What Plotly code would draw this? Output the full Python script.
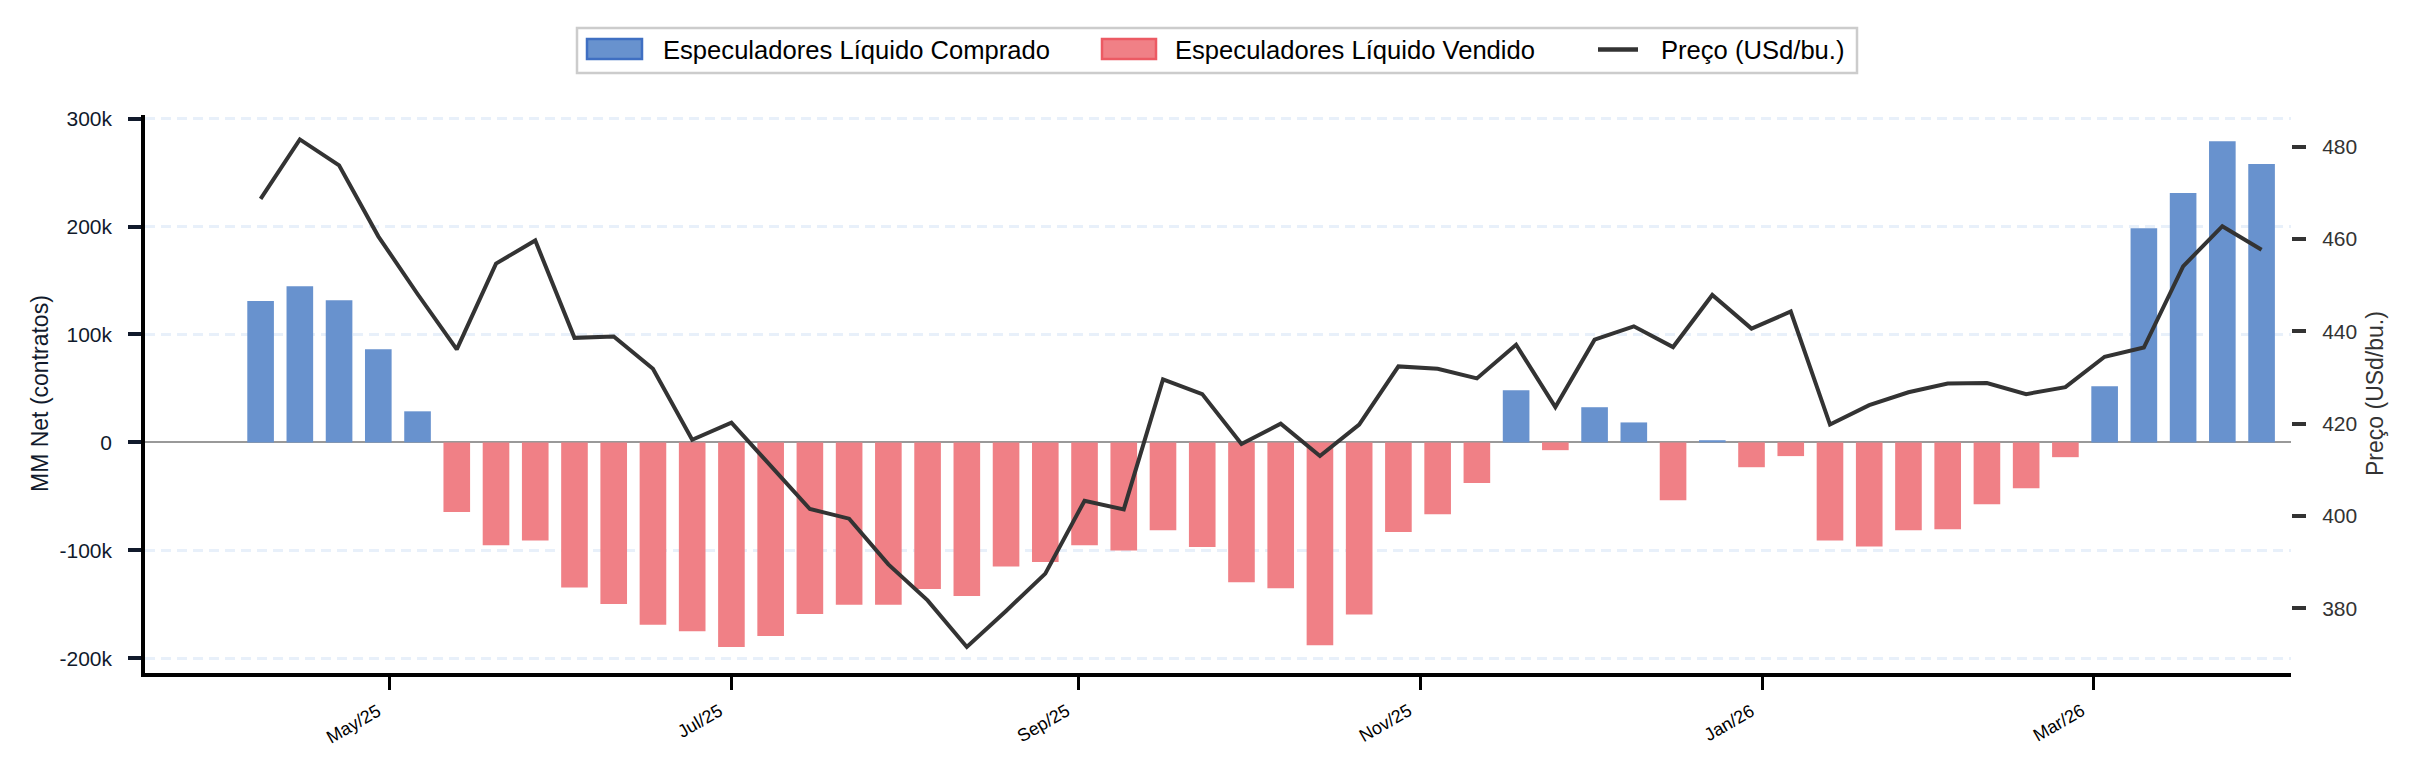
import pandas as pd
import plotly.graph_objects as go

# ---------------- data ----------------
dates = pd.date_range("2025-04-08", periods=52, freq="7D")
net_k = [131.0, 144.7, 131.7, 86.4, 28.8,
         -64.5, -95.3, -90.9, -134.4, -149.8, -169.0, -174.9, -189.6, -179.3, -159.1, -150.5, -150.5, -135.8,
         -142.3, -114.9, -110.8, -95.3, -100.1, -81.3, -97.0, -129.6, -135.1, -187.9, -159.4, -83.0, -66.5, -37.7,
         48.3, -7.2, 32.6, 18.5, -53.5, 2.0,
         -23.0, -12.7, -90.9, -96.4, -81.3, -80.6, -57.3, -42.5, -13.7,
         52.1, 198.5, 231.1, 279.1, 257.9]
price = [468.7, 481.6, 476.0, 460.6, 448.1, 436.1, 454.7, 459.7, 438.6, 438.9, 431.9, 416.5, 420.2, 410.8,
         401.5, 399.4, 389.5, 381.7,
         371.6, 379.4, 387.5, 403.3, 401.4, 429.6, 426.4, 415.6, 420.0, 413.0, 419.8, 432.4, 431.9, 429.8,
         437.1, 423.6, 438.2, 441.1, 436.6,
         447.9, 440.6, 444.3, 419.8, 424.0, 426.8, 428.7, 428.8, 426.4, 427.9, 434.5, 436.5, 454.1, 462.8, 457.7]

net = [v * 1000 for v in net_k]
long_vals = [v if v > 0 else None for v in net]
short_vals = [v if v < 0 else None for v in net]

y_ticks = [-200000, -100000, 0, 100000, 200000, 300000]
y_ticktext = ["-200k", "-100k", "0", "100k", "200k", "300k"]
p_ticks = [380, 400, 420, 440, 460, 480]
x_ticks = ["2025-05-01", "2025-07-01", "2025-09-01", "2025-11-01", "2026-01-01", "2026-03-01"]
x_ticktext = ["May/25", "Jul/25", "Sep/25", "Nov/25", "Jan/26", "Mar/26"]

legend_labels = ["Especuladores Líquido Comprado", "Especuladores Líquido Vendido", "Preço (USd/bu.)"]

# ---------------- style ----------------
W, H = 2416, 781
ML, MR, MT, MB = 145, 125, 115, 108
PW, PH = W - ML - MR, H - MT - MB
FONT = "Liberation Sans, Arial, sans-serif"
BLUE = "#6892CE"
BLUE_EDGE = "#3F6FC2"
RED = "#F08086"
RED_EDGE = "#EC5A63"
LINE = "#333333"
NAVY = "#111a2c"

def px_x(px):
    return (px - ML) / PW

def px_y(py):
    return 1 - (py - MT) / PH

bar_w = 4.75 * 86400000

fig = go.Figure()
fig.add_trace(go.Bar(x=dates, y=long_vals, width=bar_w, marker=dict(color=BLUE, line=dict(width=0)),
                     name=legend_labels[0], showlegend=False))
fig.add_trace(go.Bar(x=dates, y=short_vals, width=bar_w, marker=dict(color=RED, line=dict(width=0)),
                     name=legend_labels[1], showlegend=False))
fig.add_trace(go.Scatter(x=dates, y=price, mode="lines", line=dict(color=LINE, width=4),
                         name=legend_labels[2], yaxis="y2", showlegend=False))

fig.update_layout(
    width=W, height=H,
    margin=dict(l=ML, r=MR, t=MT, b=MB, autoexpand=False),
    paper_bgcolor="white", plot_bgcolor="white",
    barmode="overlay",
    font=dict(family=FONT, color=NAVY),
    xaxis=dict(
        type="date",
        range=["2025-03-18 09:00", "2026-04-05 06:00"],
        tickvals=x_ticks, ticktext=x_ticktext, showticklabels=False,
        ticks="outside", ticklen=13, tickwidth=3, tickcolor="#000000",
        showline=True, linecolor="#000000", linewidth=3.5,
        showgrid=False, zeroline=False,
    ),
    yaxis=dict(
        range=[-213700, 303400],
        tickvals=y_ticks, ticktext=y_ticktext,
        ticks="outside", ticklen=13, tickwidth=3.5, tickcolor=NAVY,
        showline=True, linecolor="#000000", linewidth=3.5,
        showgrid=True, gridcolor="#E8F0FA", gridwidth=2.5, griddash="10px,6px",
        zeroline=True, zerolinecolor="#999999", zerolinewidth=2,
        tickfont=dict(size=21, color=NAVY, family=FONT),
        ticklabelstandoff=12,
    ),
    yaxis2=dict(
        overlaying="y", side="right",
        range=[365.95, 486.9],
        tickvals=p_ticks,
        ticks="outside", ticklen=14, tickwidth=3.5, tickcolor=LINE,
        showline=False, showgrid=False, zeroline=False,
        tickfont=dict(size=21, color=LINE, family=FONT),
        ticklabelstandoff=12,
    ),
)

shapes = []
annotations = []

# rotated x tick labels (top-right corner anchored just below each tick)
for tv, tt in zip(x_ticks, x_ticktext):
    annotations.append(dict(text=tt, xref="x", yref="paper", x=tv, y=px_y(699),
                            xanchor="right", yanchor="top", xshift=-4, textangle=-30,
                            showarrow=False, borderpad=0,
                            font=dict(size=18, color="#000000", family=FONT)))

# axis titles
annotations.append(dict(text="MM Net (contratos)", xref="paper", yref="paper", x=px_x(40), y=0.5,
                        xanchor="center", yanchor="middle", textangle=-90, showarrow=False,
                        font=dict(size=23, color=NAVY, family=FONT)))
annotations.append(dict(text="Preço (USd/bu.)", xref="paper", yref="paper", x=px_x(2375), y=0.5,
                        xanchor="center", yanchor="middle", textangle=-90, showarrow=False,
                        font=dict(size=23, color=LINE, family=FONT)))

# legend box
shapes.append(dict(type="rect", xref="paper", yref="paper", x0=px_x(577), x1=px_x(1857),
                   y0=px_y(73), y1=px_y(28), line=dict(color="#CCCCCC", width=2.5), fillcolor="white"))
# entries
shapes.append(dict(type="rect", xref="paper", yref="paper", x0=px_x(587), x1=px_x(642),
                   y0=px_y(59), y1=px_y(39), line=dict(color=BLUE_EDGE, width=2.5), fillcolor=BLUE))
shapes.append(dict(type="rect", xref="paper", yref="paper", x0=px_x(1102), x1=px_x(1156),
                   y0=px_y(59), y1=px_y(39), line=dict(color=RED_EDGE, width=2.5), fillcolor=RED))
shapes.append(dict(type="line", xref="paper", yref="paper", x0=px_x(1598), x1=px_x(1638),
                   y0=px_y(49.5), y1=px_y(49.5), line=dict(color=LINE, width=4.5)))
for lab, xp in zip(legend_labels, [661, 1173, 1659]):
    annotations.append(dict(text=lab, xref="paper", yref="paper", x=px_x(xp), y=px_y(50),
                            xanchor="left", yanchor="middle", showarrow=False,
                            font=dict(size=25.6, color="#000000", family=FONT)))

fig.update_layout(shapes=shapes, annotations=annotations)

fig.write_html("out.html")
